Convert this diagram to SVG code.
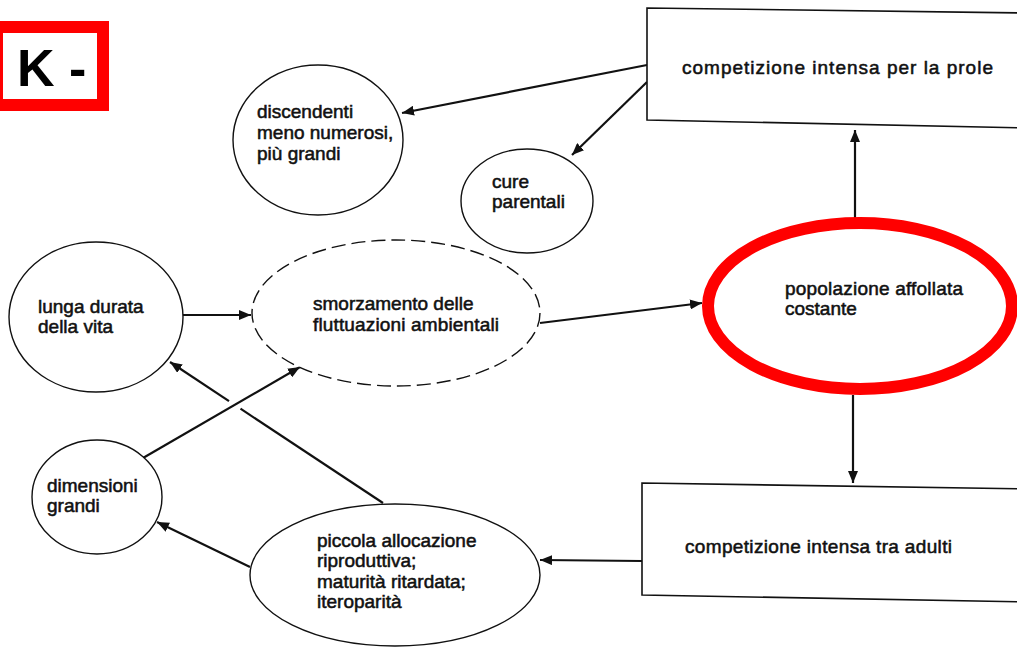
<svg xmlns="http://www.w3.org/2000/svg" width="1017" height="649" viewBox="0 0 1017 649">
<defs>
<style>
.t{font-family:"Liberation Sans",Arial,sans-serif;font-size:19px;fill:#111;stroke:#111;stroke-width:0.55}
.node{fill:#fff;stroke:#111;stroke-width:1.4}
.dash{fill:#fff;stroke:#111;stroke-width:1.4;stroke-dasharray:14 6}
.box{fill:#fff;stroke:#111;stroke-width:1.6}
.edge{fill:none;stroke:#111;stroke-width:2.2}
</style>
<marker id="ah" viewBox="0 0 12 10" refX="12" refY="5" markerWidth="12" markerHeight="10" markerUnits="userSpaceOnUse" orient="auto">
<path d="M0,0 L12,5 L0,10 z" fill="#111"/>
</marker>
</defs>
<rect width="1017" height="649" fill="#fff"/>

<g id="label-k">
<rect x="-3" y="27" width="106" height="78" fill="#fff" stroke="#ff0000" stroke-width="12"/>
<text x="17" y="86" font-family="Liberation Sans,Arial,sans-serif" font-size="52" font-weight="bold" fill="#000">K -</text>
</g>

<g id="connectors">
<line class="edge" x1="647" y1="65" x2="402" y2="113" marker-end="url(#ah)"/>
<line class="edge" x1="647" y1="82" x2="572" y2="155" marker-end="url(#ah)"/>
<line class="edge" x1="855" y1="218" x2="855" y2="130" marker-end="url(#ah)"/>
<line class="edge" x1="853" y1="395" x2="853" y2="483" marker-end="url(#ah)"/>
<line class="edge" x1="183" y1="315" x2="251" y2="315" marker-end="url(#ah)"/>
<line class="edge" x1="540" y1="323" x2="702" y2="303" marker-end="url(#ah)"/>
<line class="edge" x1="143" y1="458" x2="300" y2="367" marker-end="url(#ah)"/>
<line class="edge" x1="383" y1="503" x2="240.5" y2="408.7"/>
<line class="edge" x1="229" y1="401.1" x2="170" y2="362" marker-end="url(#ah)"/>
<line class="edge" x1="250" y1="567" x2="157" y2="522" marker-end="url(#ah)"/>
<line class="edge" x1="642" y1="561" x2="540" y2="560" marker-end="url(#ah)"/>
</g>

<g id="box-prole">
<path class="box" d="M1030,13 L647,8 L647,120 L1030,128"/>
<text class="t" x="682" y="74" font-size="20" textLength="311" lengthAdjust="spacing">competizione intensa per la prole</text>
</g>

<g id="box-adulti">
<path class="box" d="M1030,489 L642,483 L642,595 L1030,602"/>
<text class="t" x="685" y="553" textLength="267" lengthAdjust="spacing">competizione intensa tra adulti</text>
</g>

<g id="node-discendenti">
<ellipse class="node" cx="318" cy="140" rx="85" ry="75"/>
<text class="t" x="257" y="118">discendenti</text>
<text class="t" x="257" y="139">meno numerosi,</text>
<text class="t" x="257" y="160">più grandi</text>
</g>

<g id="node-cure">
<ellipse class="node" cx="527" cy="201" rx="66" ry="52"/>
<text class="t" x="492" y="188">cure</text>
<text class="t" x="492" y="208">parentali</text>
</g>

<g id="node-lunga">
<ellipse class="node" cx="96" cy="317" rx="87" ry="75"/>
<text class="t" x="38" y="313">lunga durata</text>
<text class="t" x="38" y="333">della vita</text>
</g>

<g id="node-smorzamento">
<ellipse class="dash" cx="396" cy="313" rx="144" ry="73"/>
<text class="t" x="313" y="310">smorzamento delle</text>
<text class="t" x="313" y="331" textLength="186" lengthAdjust="spacing">fluttuazioni ambientali</text>
</g>

<g id="node-popolazione">
<ellipse cx="860" cy="306" rx="152" ry="83" fill="#fff" stroke="#ff0000" stroke-width="12"/>
<text class="t" x="785" y="295" textLength="178" lengthAdjust="spacing">popolazione affollata</text>
<text class="t" x="785" y="315">costante</text>
</g>

<g id="node-dimensioni">
<ellipse class="node" cx="97" cy="497" rx="65" ry="57"/>
<text class="t" x="47" y="492">dimensioni</text>
<text class="t" x="47" y="512">grandi</text>
</g>

<g id="node-piccola">
<ellipse class="node" cx="395" cy="575" rx="145" ry="71"/>
<text class="t" x="317" y="547">piccola allocazione</text>
<text class="t" x="317" y="567">riproduttiva;</text>
<text class="t" x="317" y="588">maturità ritardata;</text>
<text class="t" x="317" y="608">iteroparità</text>
</g>
</svg>
